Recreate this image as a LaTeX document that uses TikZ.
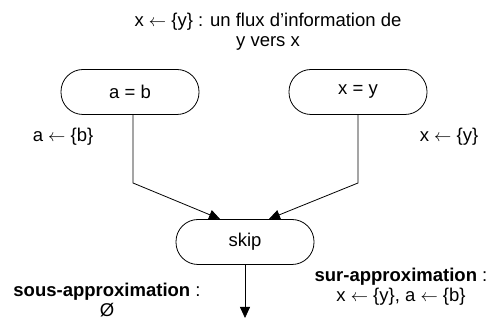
\documentclass[tikz,border=0pt]{standalone}
\usepackage{fontspec}
\setmainfont{Liberation Sans}
\usetikzlibrary{arrows.meta,calc}
\newcommand{\flowsto}{$\leftarrow$}
\begin{document}
\begin{tikzpicture}[x=1pt,y=-1pt,
  every node/.style={font=\fontsize{18.5}{20}\selectfont, inner sep=0pt},
  stmt/.style={draw, line width=0.8pt, rounded corners=22pt, minimum width=138pt, minimum height=45pt},
  flow/.style={line width=0.8pt, -{Triangle[length=11pt,width=10pt]}}]
  \useasboundingbox (0,0) rectangle (493,320);

  % caption
  \node[align=center] (cap) at (268,32) {x \flowsto{} \{y\} : un flux d’information de\\ y vers x};

  % statements
  \node[stmt] (ab) at (130,92) {a = b};
  \node[stmt] (xy) at (358,92) {x = y};
  \node[stmt] (skip) at (245,242) {skip};

  % flow labels
  \node (la) at (63,137) {a \flowsto{} \{b\}};
  \node (lx) at (449,137) {x \flowsto{} \{y\}};
  \node[align=center] (over) at (401,287) {\textbf{sur-approximation} :\\ x \flowsto{} \{y\}, a \flowsto{} \{b\}};
  \node[align=center] (under) at (107,300) {\textbf{sous-approximation} :\\ Ø};

  % connectors
  \coordinate (bendL) at (133,183);
  \coordinate (bendR) at (358,183);
  \coordinate (tipL) at (220,219);
  \coordinate (tipR) at (269,219);
  \coordinate (out) at (245,318);
  \draw[flow] (ab.south -| bendL) -- (bendL) -- (tipL);
  \draw[flow] (xy.south) -- (bendR) -- (tipR);
  \draw[flow] (skip.south) -- (out);
\end{tikzpicture}
\end{document}
